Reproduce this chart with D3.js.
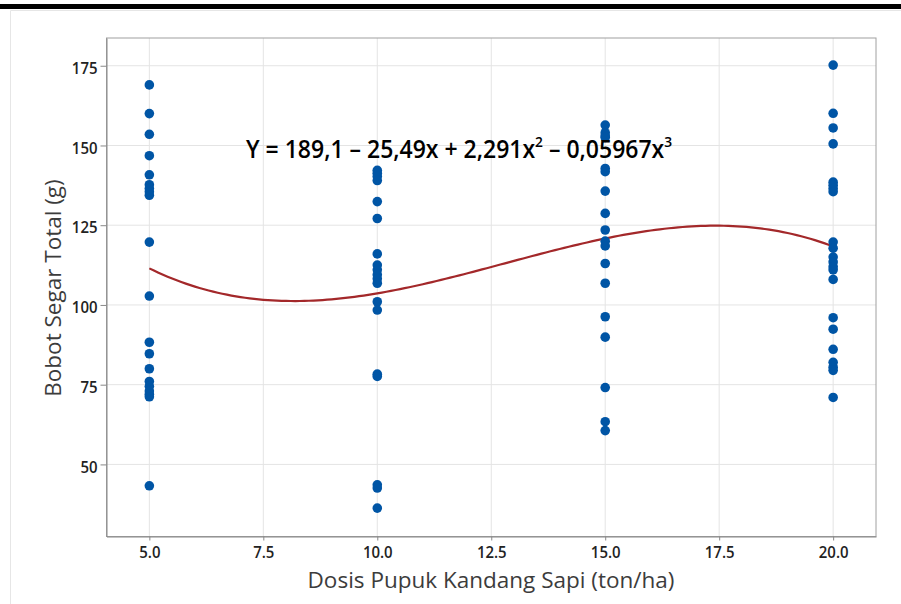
<!DOCTYPE html>
<html><head><meta charset="utf-8">
<script src="https://cdn.jsdelivr.net/npm/d3@7"></script>
<style>body{margin:0;background:#fff}svg{display:block}</style>
</head><body>
<svg id="c" width="901" height="604"></svg>
<script>
const doses = [5, 10, 15, 20];
const bobot5 = [169, 160, 153.5, 146.8, 140.8, 137.7, 136.5, 135.5, 134.4, 119.7, 102.8, 88.3, 84.7, 80, 76, 74.5, 73, 72, 71.2, 43.3];
const bobot10 = [142.2, 141.3, 140.3, 139, 132.4, 127.1, 116, 112.5, 111, 109.5, 108.2, 106.8, 101, 98.4, 78.3, 77.6, 43.6, 42.6, 36.3];
const bobot15 = [156.4, 154, 153, 152.5, 142.8, 141.8, 135.7, 128.7, 123.5, 120, 118.5, 113, 106.8, 96.3, 89.9, 74.1, 63.4, 60.6];
const bobot20 = [175.2, 160.1, 155.5, 150.5, 138.5, 137.5, 136.5, 135.5, 119.7, 117.8, 115, 113.5, 112, 111, 108, 96, 92.4, 86.1, 82, 80.5, 79.5, 71];
const xTicks = [5, 7.5, 10, 12.5, 15, 17.5, 20];
const yTicks = [50, 75, 100, 125, 150, 175];
const coef = [189.1, -25.49, 2.291, -0.05967];
const xLabel = "Dosis Pupuk Kandang Sapi (ton/ha)";
const yLabel = "Bobot Segar Total (g)";

const groups = [bobot5, bobot10, bobot15, bobot20];
const points = [];
doses.forEach((d, i) => groups[i].forEach(v => points.push({x: d, y: v})));

const svg = d3.select("#c");
const L = 106.5, R = 876, T = 38, B = 536.5;
const x = d3.scaleLinear().domain([4.06, 20.94]).range([L, R]);
const y = d3.scaleLinear().domain([27.4, 183.7]).range([B, T]);
const FONT = "'Open Sans', 'Noto Sans', sans-serif";

// page frame
svg.append("rect").attr("x", 0).attr("y", 4).attr("width", 901).attr("height", 5).attr("fill", "#000");
svg.append("line").attr("x1", 10.5).attr("x2", 901).attr("y1", 10.5).attr("y2", 10.5).attr("stroke", "#e6e6e6");
svg.append("line").attr("x1", 10.5).attr("x2", 10.5).attr("y1", 10.5).attr("y2", 604).attr("stroke", "#e6e6e6");

// grid
const grid = svg.append("g");
grid.selectAll(".gx").data(xTicks).join("line")
  .attr("x1", d => x(d)).attr("x2", d => x(d)).attr("y1", T).attr("y2", B)
  .attr("stroke", "#e4e4e4").attr("stroke-width", 1);
grid.selectAll(".gy").data(yTicks).join("line")
  .attr("x1", L).attr("x2", R).attr("y1", d => y(d)).attr("y2", d => y(d))
  .attr("stroke", "#e4e4e4").attr("stroke-width", 1);

// box
svg.append("rect").attr("x", L).attr("y", T).attr("width", R - L).attr("height", B - T)
  .attr("fill", "none").attr("stroke", "#a0a0a0").attr("stroke-width", 1);

// axes
const SX = 0.88;
const xa = svg.append("g").attr("transform", `translate(0,${B})`)
  .call(d3.axisBottom(x).tickValues(xTicks).tickFormat(d3.format(".1f")).tickSizeInner(4).tickSizeOuter(0).tickPadding(5));
xa.select(".domain").attr("stroke", "#888");
xa.selectAll(".tick line").attr("stroke", "#888");
xa.selectAll(".tick text").attr("font-family", FONT).attr("font-size", 17).attr("font-weight", 600)
  .attr("fill", "#222").attr("transform", `scale(${SX},1)`);

const ya = svg.append("g").attr("transform", `translate(${L},0)`)
  .call(d3.axisLeft(y).tickValues(yTicks).tickFormat(d3.format("d")).tickSizeInner(6).tickSizeOuter(0).tickPadding(3));
ya.select(".domain").attr("stroke", "#888");
ya.selectAll(".tick line").attr("stroke", "#888");
ya.selectAll(".tick text").attr("font-family", FONT).attr("font-size", 17).attr("font-weight", 600)
  .attr("fill", "#222").attr("x", -9 / SX).attr("dy", "0.45em").attr("transform", `scale(${SX},1)`);

// fitted curve
const poly = t => coef.reduce((s, c, k) => s + c * Math.pow(t, k), 0);
const xs = d3.range(5, 20.0001, 0.1);
svg.append("path").datum(xs)
  .attr("d", d3.line().x(t => x(t)).y(t => y(poly(t))))
  .attr("fill", "none").attr("stroke", "#a3282a").attr("stroke-width", 2.2);

// points
svg.append("g").selectAll("circle").data(points).join("circle")
  .attr("cx", d => x(d.x)).attr("cy", d => y(d.y)).attr("r", 4.8)
  .attr("fill", "#0055a5");

// equation
const eq = svg.append("text").attr("font-family", FONT).attr("font-size", 25).attr("font-weight", 600)
  .attr("fill", "#000").attr("transform", `translate(246,158) scale(0.92,1)`);
const parts = [["Y = 189,1 \u2013 25,49x + 2,291x", 0], ["2", 1], [" \u2013 0,05967x", 0], ["3", 1]];
let up = false;
parts.forEach(([s, sup]) => {
  const ts = eq.append("tspan").text(s);
  if (sup) { ts.attr("font-size", 15).attr("dy", -11); up = true; }
  else if (up) { ts.attr("dy", 11).attr("font-size", 25); up = false; }
});

// axis titles
svg.append("text").text(xLabel).attr("font-family", FONT).attr("font-size", 22.5)
  .attr("fill", "#3c3c3c").attr("text-anchor", "middle")
  .attr("transform", `translate(491,588) scale(1,1)`);
svg.append("text").text(yLabel).attr("font-family", FONT).attr("font-size", 22.5)
  .attr("fill", "#3c3c3c").attr("text-anchor", "middle")
  .attr("transform", `translate(61,288) rotate(-90)`);
</script>
</body></html>
